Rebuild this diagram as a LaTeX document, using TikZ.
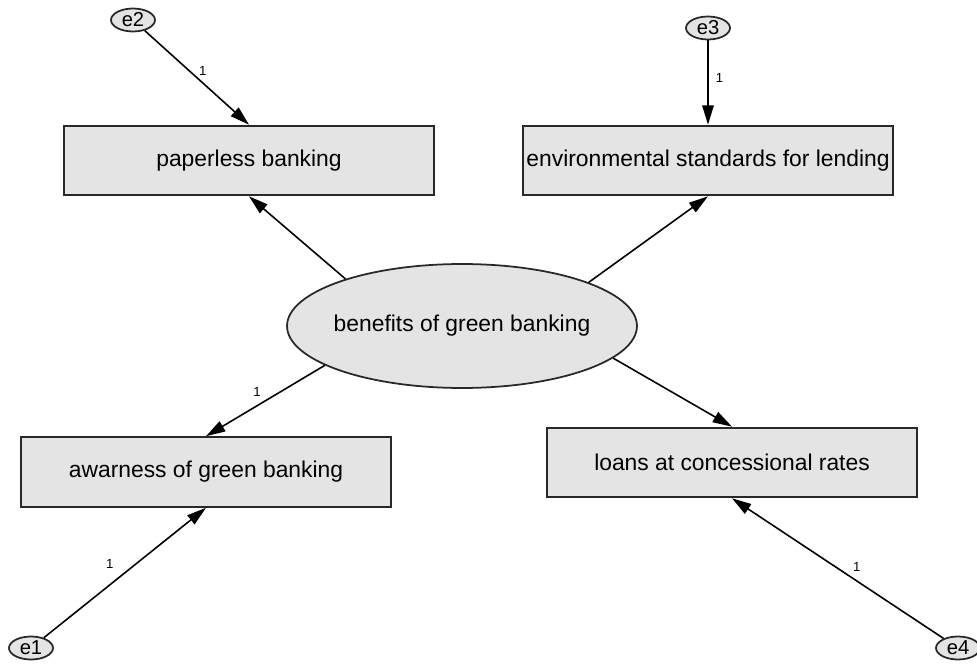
\documentclass[tikz,border=0pt]{standalone}
\usepackage{fontspec}
\setmainfont{Liberation Sans}
\usetikzlibrary{arrows.meta,shapes.geometric}
\definecolor{boxgray}{RGB}{228,228,228}
\definecolor{edgegray}{RGB}{40,40,40}
\tikzset{obs/.style={draw=edgegray, line width=1.2pt, fill=boxgray, minimum width=7.4cm, minimum height=1.39cm, inner sep=0pt, font=\fontsize{13}{15}\selectfont},
lat/.style={ellipse, draw=edgegray, line width=1pt, fill=boxgray, minimum width=7cm, minimum height=2.48cm, inner xsep=-1cm, inner ysep=0pt, font=\fontsize{13}{15}\selectfont},
err/.style={ellipse, draw=edgegray, line width=1pt, fill=boxgray, minimum width=0.88cm, minimum height=0.46cm, inner sep=0pt, font=\fontsize{11.5}{13}\selectfont},
%regression weights
reg/.style={-{Triangle[length=11pt,width=6.5pt]}, line width=0.9pt},
one/.style={font=\fontsize{7.5}{9}\selectfont, inner sep=1pt}}

\begin{document}
\begin{tikzpicture}[x=0.02cm, y=-0.02cm]

\useasboundingbox (0,0) rectangle (977,669);

\node[lat] (bene) at (462,326) {benefits of green banking};

\node[obs] (paper) at (249,160.5) {paperless banking};
\node[obs] (env)   at (708,160.5) {environmental standards for lending};
\node[obs] (aware) at (206,472)   {awarness of green banking};
\node[obs] (loans) at (732,462.5) {loans at concessional rates};

\node[err] (e1) at (31,648)  {e1};
\node[err] (e2) at (133,20)  {e2};
\node[err] (e3) at (708,28)  {e3};
\node[err] (e4) at (958,648) {e4};

\draw[reg] (bene.158) -- (paper.south);
\draw[reg] (bene.19) -- (env.south);
\draw[reg] (bene.196) -- node[one, pos=0.57, above=4pt] {1} (aware.north);
\draw[reg] (bene.348) -- (loans.north);

\draw[reg] (e2) -- node[one, pos=0.43, right=4pt] {1} (paper.north);
\draw[reg] (e3) -- node[one, pos=0.45, right=3pt] {1} (env.north);
\draw[reg] (e1) -- node[one, pos=0.565, left=11pt] {1} (aware.south);
\draw[reg] (e4) -- node[one, pos=0.41, above=4pt] {1} (loans.south);

\end{tikzpicture}
\end{document}
